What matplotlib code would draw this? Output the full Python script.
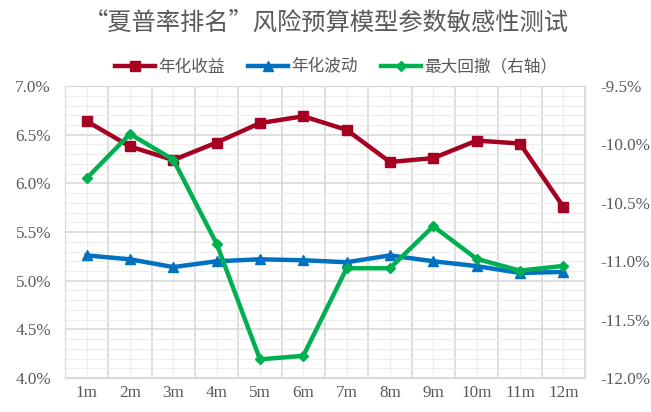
import numpy as np
import matplotlib.pyplot as plt
from matplotlib.ticker import MultipleLocator, FuncFormatter, FixedLocator

plt.rcParams['font.family'] = ['Liberation Serif', 'Noto Sans CJK SC']

# data
Months = ['1m', '2m', '3m', '4m', '5m', '6m', '7m', '8m', '9m', '10m', '11m', '12m']
AnnReturn = [6.64, 6.38, 6.24, 6.42, 6.62, 6.69, 6.55, 6.22, 6.26, 6.44, 6.41, 5.76]
AnnVol = [5.26, 5.22, 5.14, 5.20, 5.22, 5.21, 5.19, 5.26, 5.20, 5.15, 5.08, 5.09]
MaxDD = [-10.29, -9.91, -10.13, -10.85, -11.84, -11.81, -11.06, -11.06, -10.70, -10.98, -11.08, -11.04]

Grey = '#595959'
Cjk = ['Noto Sans CJK SC', 'DejaVu Sans']

fig = plt.figure(figsize=(6.51, 4.12), dpi=100)
ax1 = fig.add_axes([0.0998, 0.0825, 0.7988, 0.7085])
ax2 = ax1.twinx()

x = np.arange(len(Months))
l1, = ax1.plot(x, AnnReturn, color='#A50021', lw=3.2, marker='s', ms=7, label='年化收益', zorder=3)
l2, = ax1.plot(x, AnnVol, color='#0070C0', lw=3.2, marker='^', ms=7, label='年化波动', zorder=3)
l3, = ax2.plot(x, MaxDD, color='#00B050', lw=3.2, marker='D', ms=5, label='最大回撤（右轴）', zorder=3)

ax1.set_xlim(-0.5, len(Months) - 0.5)
ax1.set_ylim(4.0, 7.0)
ax2.set_ylim(-12.0, -9.5)

ax1.yaxis.set_major_locator(MultipleLocator(0.5))
ax1.yaxis.set_minor_locator(MultipleLocator(0.1))
ax1.yaxis.set_major_formatter(FuncFormatter(lambda v, p: '%.1f%%' % v))
ax2.yaxis.set_major_locator(MultipleLocator(0.5))
ax2.yaxis.set_major_formatter(FuncFormatter(lambda v, p: '%.1f%%' % v))

ax1.xaxis.set_major_locator(FixedLocator(x))
ax1.set_xticklabels(Months)
ax1.xaxis.set_minor_locator(FixedLocator(np.arange(-0.5, len(Months), 1.0)))

ax1.grid(which='major', axis='y', color='#D9D9D9', lw=1.2)
ax1.grid(which='minor', axis='y', color='#EDEDED', lw=0.8)
ax1.grid(which='minor', axis='x', color='#D9D9D9', lw=1.2)
ax1.grid(which='major', axis='x', color='#EDEDED', lw=0.8)
ax1.set_axisbelow(True)

for a in (ax1, ax2):
    for s in a.spines.values():
        s.set_color('#D9D9D9')
    a.tick_params(which='both', length=0, labelsize=12.3, labelcolor=Grey)
ax1.tick_params(axis='y', pad=10)
ax1.tick_params(axis='x', pad=5)
ax2.tick_params(axis='y', pad=11)

fig.text(0.502, 0.944, '“夏普率排名”风险预算模型参数敏感性测试', ha='center', va='center',
         fontsize=17.5, color=Grey, family=Cjk)

leg = fig.legend(handles=[l1, l2, l3], loc='center', bbox_to_anchor=(0.516, 0.837), ncol=3,
                 frameon=False, handlelength=2.4, columnspacing=1.4, handletextpad=0.2,
                 prop={'family': Cjk, 'size': 12})
for t in leg.get_texts():
    t.set_color(Grey)

fig.savefig('out.png', dpi=100)
